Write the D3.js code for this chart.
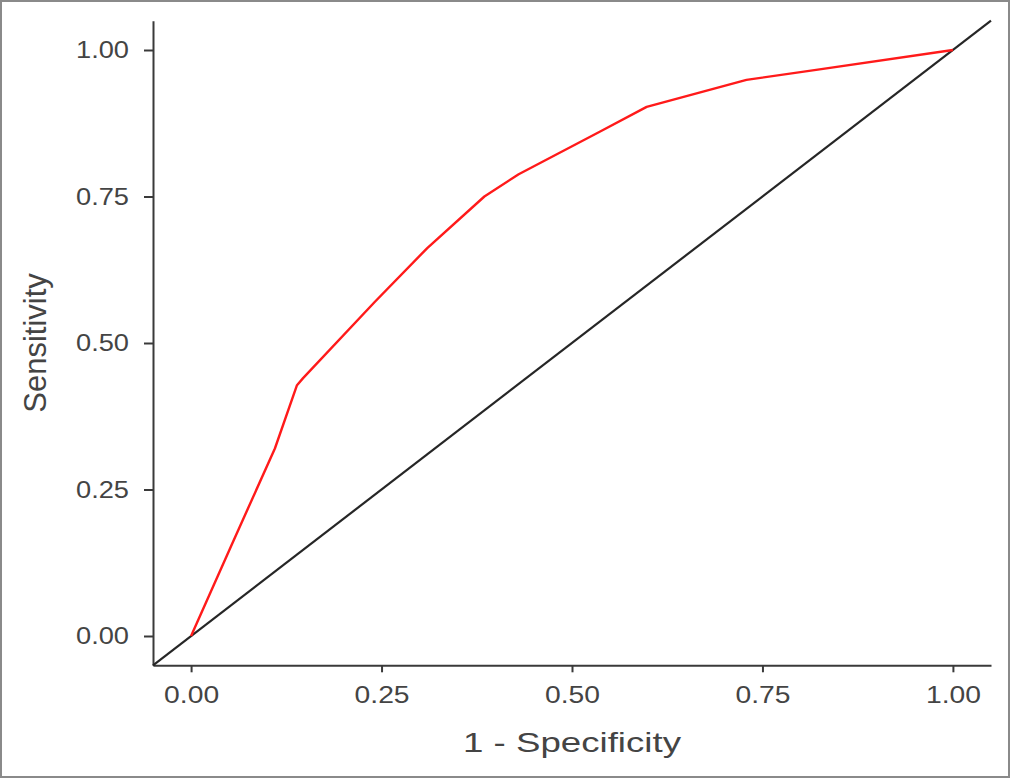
<!DOCTYPE html>
<html>
<head>
<meta charset="utf-8">
<script src="https://cdn.jsdelivr.net/npm/d3@7"></script>
<style>
  html, body { margin: 0; padding: 0; background: #fff; }
  svg { display: block; font-family: "Liberation Sans", Arial, sans-serif; }
</style>
</head>
<body>
<div id="chart"></div>
<script>
// ROC curve — 1 - Specificity vs Sensitivity

// red curve
const fpr = [0, 0.052, 0.11, 0.139, 0.147, 0.241, 0.31, 0.385, 0.43, 0.537, 0.598, 0.729, 0.825, 1.0];
const tpr = [0, 0.152, 0.32, 0.428, 0.44, 0.57, 0.662, 0.75, 0.788, 0.861, 0.903, 0.949, 0.967, 1.0];

// reference (chance) line spans the full panel
const diagX = [-0.05, 1.05];
const diagY = [-0.05, 1.05];

const tickVals = [0, 0.25, 0.5, 0.75, 1.0];
const tickLabels = ["0.00", "0.25", "0.50", "0.75", "1.00"];

const W = 1011, H = 779;
const plot = { left: 153, right: 991, top: 20.7, bottom: 665.3 };

const x = d3.scaleLinear().domain([-0.05, 1.05]).range([plot.left, plot.right]);
const y = d3.scaleLinear().domain([-0.05, 1.05]).range([plot.bottom, plot.top]);

const svg = d3.select("#chart").append("svg")
  .attr("width", W).attr("height", H);

// outer frame
svg.append("rect")
  .attr("x", 1).attr("y", 1).attr("width", 1008).attr("height", 776)
  .attr("fill", "#fff").attr("stroke", "#8a8a8a").attr("stroke-width", 2);

const textCol = "#444";
const axisCol = "#3a3a3a";

// x axis
const xAxis = svg.append("g")
  .attr("transform", `translate(0,${plot.bottom})`)
  .call(d3.axisBottom(x).tickValues(tickVals).tickFormat((d, i) => tickLabels[i])
    .tickSizeOuter(0).tickSizeInner(7).tickPadding(14));
xAxis.select(".domain").attr("stroke", axisCol).attr("stroke-width", 2);
xAxis.selectAll(".tick line").attr("stroke", axisCol).attr("stroke-width", 2);
xAxis.selectAll(".tick text")
  .attr("fill", textCol).attr("font-size", 23.5)
  .attr("textLength", 55).attr("lengthAdjust", "spacingAndGlyphs");

// y axis
const yAxis = svg.append("g")
  .attr("transform", `translate(${plot.left},0)`)
  .call(d3.axisLeft(y).tickValues(tickVals).tickFormat((d, i) => tickLabels[i])
    .tickSizeOuter(0).tickSizeInner(9).tickPadding(15));
yAxis.select(".domain").attr("stroke", axisCol).attr("stroke-width", 2);
yAxis.selectAll(".tick line").attr("stroke", axisCol).attr("stroke-width", 2);
yAxis.selectAll(".tick text")
  .attr("fill", textCol).attr("font-size", 23.5)
  .attr("textLength", 53).attr("lengthAdjust", "spacingAndGlyphs");

// chance line
svg.append("path")
  .datum(d3.zip(diagX, diagY))
  .attr("fill", "none").attr("stroke", "#262626").attr("stroke-width", 2.2)
  .attr("d", d3.line().x(d => x(d[0])).y(d => y(d[1])));

// ROC curve
svg.append("path")
  .datum(d3.zip(fpr, tpr))
  .attr("fill", "none").attr("stroke", "#ff1a1a").attr("stroke-width", 2.4)
  .attr("stroke-linejoin", "round")
  .attr("d", d3.line().x(d => x(d[0])).y(d => y(d[1])));

// axis titles
svg.append("text")
  .attr("x", (plot.left + plot.right) / 2).attr("y", 752)
  .attr("text-anchor", "middle").attr("font-size", 28).attr("fill", textCol)
  .attr("textLength", 218).attr("lengthAdjust", "spacingAndGlyphs")
  .text("1 - Specificity");

svg.append("text")
  .attr("transform", `translate(46,${(plot.top + plot.bottom) / 2}) rotate(-90)`)
  .attr("text-anchor", "middle").attr("font-size", 31).attr("fill", textCol)
  .text("Sensitivity");
</script>
</body>
</html>
